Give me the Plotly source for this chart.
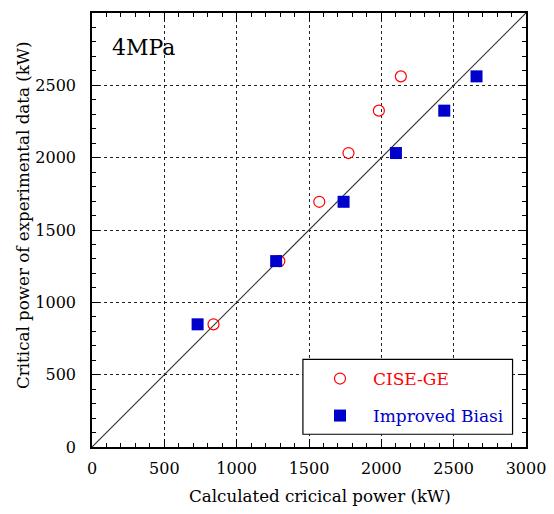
import plotly.graph_objects as go

# Data
cise_x = [840, 1295, 1571, 1773, 1983, 2135]
cise_y = [848, 1285, 1695, 2032, 2325, 2562]
biasi_x = [730, 1273, 1739, 2101, 2435, 2658]
biasi_y = [848, 1285, 1695, 2032, 2325, 2562]
diag = [0, 3000]
tick_vals = [0, 500, 1000, 1500, 2000, 2500, 3000]
tick_text = ["0", "500", "1000", "1500", "2000", "2500", "3000"]

FONT = "DejaVu Serif, serif"

# page has an 8px body margin; plot area target in page pixels
OFF = 8
PL, PR, PT, PB = 92, 526, 13, 447
W, H = 554 - OFF, 514 - OFF
pw, ph = PR - PL, PB - PT


def px2paper(x, y):
    return (x - PL) / pw, (PB - y) / ph


fig = go.Figure()
fig.add_trace(go.Scatter(x=diag, y=diag, mode="lines",
                         line=dict(color="#333333", width=1.2),
                         showlegend=False, hoverinfo="skip"))
fig.add_trace(go.Scatter(x=cise_x, y=cise_y, mode="markers", name="CISE-GE",
                         marker=dict(symbol="circle-open", size=11,
                                     color="#ff0000", line=dict(width=1.2)),
                         legend="legend"))
fig.add_trace(go.Scatter(x=biasi_x, y=biasi_y, mode="markers", name="Improved Biasi",
                         marker=dict(symbol="square", size=12, color="#0000cc"),
                         legend="legend2"))

axis_common = dict(
    range=[0, 3000], tickvals=tick_vals, ticktext=tick_text,
    showline=True, linecolor="black", linewidth=1.5, mirror="ticks",
    ticks="inside", ticklen=8, tickcolor="black", tickwidth=1,
    showgrid=True, gridcolor="#222222", gridwidth=1.3, griddash="3px,3px",
    zeroline=False, automargin=False,
    minor=dict(dtick=100, ticks="inside", ticklen=4, tickcolor="black",
               tickwidth=1, showgrid=False),
    tickfont=dict(family=FONT, size=16, color="black"),
)

fig.update_xaxes(**axis_common, ticklabelstandoff=6)
fig.update_yaxes(**axis_common, ticklabelstandoff=11)

lx1, ly1 = px2paper(307, 379)
lx2, ly2 = px2paper(307, 416)
tx, ty = px2paper(110, 47)
xtx, xty = px2paper(320, 496)
ytx, yty = px2paper(23, 215)

fig.update_layout(
    width=W, height=H,
    margin=dict(l=PL - OFF, r=554 - PR, t=PT - OFF, b=514 - PB, autoexpand=False),
    paper_bgcolor="white", plot_bgcolor="white",
    font=dict(family=FONT, color="black"),
    legend=dict(x=lx1, y=ly1, xanchor="left", yanchor="middle",
                bgcolor="rgba(0,0,0,0)", borderwidth=0, itemwidth=56,
                font=dict(family=FONT, size=17, color="#ff0000")),
    legend2=dict(x=lx2, y=ly2, xanchor="left", yanchor="middle",
                 bgcolor="rgba(0,0,0,0)", borderwidth=0, itemwidth=56,
                 font=dict(family=FONT, size=17, color="#0000cc")),
    shapes=[dict(type="rect", xref="x", yref="y", x0=1458, x1=2907, y0=88, y1=606,
                 line=dict(color="black", width=1.2), fillcolor="white", layer="above")],
    annotations=[
        dict(text="4MPa", x=tx, y=ty, xref="paper", yref="paper",
             xanchor="left", yanchor="middle", showarrow=False,
             font=dict(family=FONT, size=22, color="black")),
        dict(text="Calculated cricical power (kW)", x=xtx, y=xty,
             xref="paper", yref="paper", xanchor="center", yanchor="middle",
             showarrow=False,
             font=dict(family=FONT, size=16.7, color="black")),
        dict(text="Critical power of experimental data (kW)", x=ytx, y=yty,
             xref="paper", yref="paper", xanchor="center", yanchor="middle",
             showarrow=False, textangle=-90,
             font=dict(family=FONT, size=16.7, color="black")),
    ],
)

fig.write_html("out.html")
